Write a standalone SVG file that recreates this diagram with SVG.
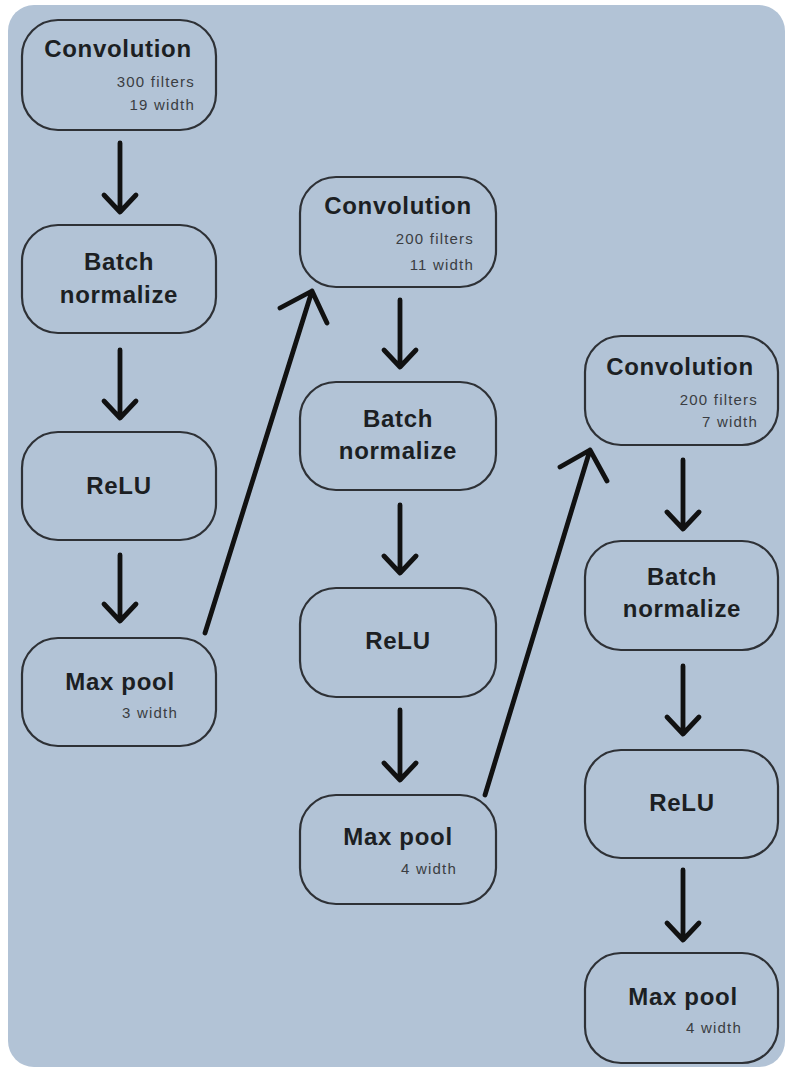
<svg xmlns="http://www.w3.org/2000/svg" width="785" height="1071" viewBox="0 0 785 1071">
<style>
.n{fill:none;stroke:#2e3136;stroke-width:2.2}
.t{font-family:"Liberation Sans",Arial,sans-serif;font-weight:bold;font-size:24px;letter-spacing:0.7px;fill:#1c1f23;text-anchor:middle}
.s{font-family:"Liberation Sans",Arial,sans-serif;font-size:15px;letter-spacing:1.2px;fill:#3a3d42;text-anchor:end}
.a{fill:none;stroke:#111;stroke-width:4.8;stroke-linecap:round;stroke-linejoin:round}
</style>
<rect x="0" y="0" width="785" height="1071" fill="#ffffff"/>
<rect x="8" y="5" width="777" height="1062" rx="26" fill="#b2c3d6"/>
<g id="c1conv"><rect class="n" x="22" y="20" width="194" height="110" rx="36"/><text class="t" x="118" y="57">Convolution</text><text class="s" x="195" y="87">300 filters</text><text class="s" x="195" y="110">19 width</text></g>
<g id="c1bn"><rect class="n" x="22" y="225" width="194" height="108" rx="36"/><text class="t" x="119" y="270">Batch</text><text class="t" x="119" y="303">normalize</text></g>
<g id="c1relu"><rect class="n" x="22" y="432" width="194" height="108" rx="36"/><text class="t" x="119" y="494">ReLU</text></g>
<g id="c1pool"><rect class="n" x="22" y="638" width="194" height="108" rx="36"/><text class="t" x="120" y="690">Max pool</text><text class="s" x="178" y="718">3 width</text></g>
<g id="c2conv"><rect class="n" x="300" y="177" width="196" height="110" rx="36"/><text class="t" x="398" y="214">Convolution</text><text class="s" x="474" y="244">200 filters</text><text class="s" x="474" y="270">11 width</text></g>
<g id="c2bn"><rect class="n" x="300" y="382" width="196" height="108" rx="36"/><text class="t" x="398" y="427">Batch</text><text class="t" x="398" y="459">normalize</text></g>
<g id="c2relu"><rect class="n" x="300" y="588" width="196" height="109" rx="36"/><text class="t" x="398" y="649">ReLU</text></g>
<g id="c2pool"><rect class="n" x="300" y="795" width="196" height="109" rx="36"/><text class="t" x="398" y="845">Max pool</text><text class="s" x="457" y="874">4 width</text></g>
<g id="c3conv"><rect class="n" x="585" y="336" width="193" height="109" rx="36"/><text class="t" x="680" y="375">Convolution</text><text class="s" x="758" y="405">200 filters</text><text class="s" x="758" y="427">7 width</text></g>
<g id="c3bn"><rect class="n" x="585" y="541" width="193" height="109" rx="36"/><text class="t" x="682" y="585">Batch</text><text class="t" x="682" y="617">normalize</text></g>
<g id="c3relu"><rect class="n" x="585" y="750" width="193" height="108" rx="36"/><text class="t" x="682" y="811">ReLU</text></g>
<g id="c3pool"><rect class="n" x="585" y="953" width="193" height="110" rx="36"/><text class="t" x="683" y="1005">Max pool</text><text class="s" x="742" y="1033">4 width</text></g>
<g id="connectors">
<path class="a" d="M120,143 V212 M104,195 L120,212 L136,195"/>
<path class="a" d="M120,350 V418 M104,401 L120,418 L136,401"/>
<path class="a" d="M120,555 V621 M104,604 L120,621 L136,604"/>
<path class="a" d="M205,633 L312,291 M280,308 L312,291 L327,323"/>
<path class="a" d="M400,300 V367 M384,350 L400,367 L416,350"/>
<path class="a" d="M400,505 V573 M384,556 L400,573 L416,556"/>
<path class="a" d="M400,710 V780 M384,763 L400,780 L416,763"/>
<path class="a" d="M485,795 L590,450 M560,467 L590,450 L607,481"/>
<path class="a" d="M683,460 V529 M667,512 L683,529 L699,512"/>
<path class="a" d="M683,666 V734 M667,717 L683,734 L699,717"/>
<path class="a" d="M683,870 V940 M667,923 L683,940 L699,923"/>
</g>
</svg>
